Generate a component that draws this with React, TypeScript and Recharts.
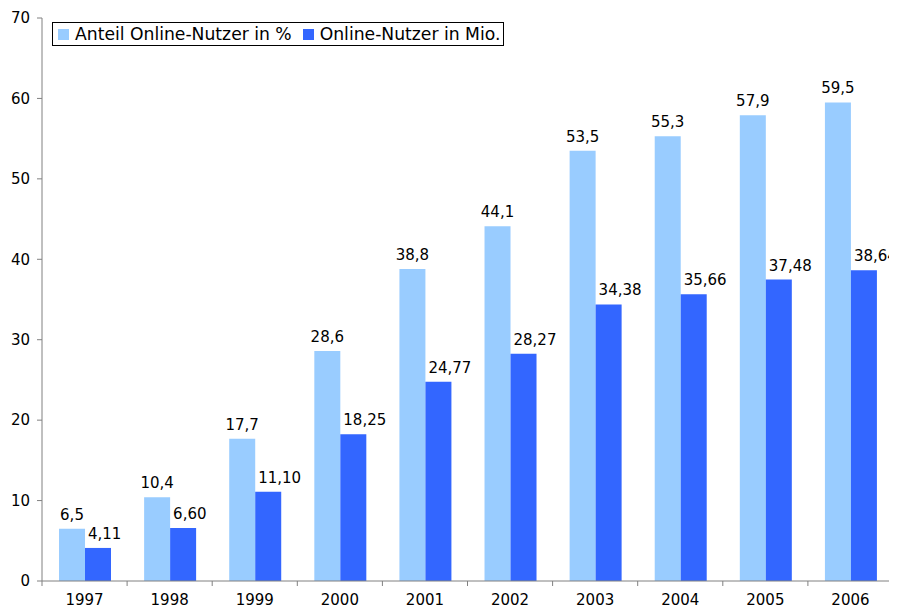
import { BarChart, Bar, XAxis, YAxis, Legend, LabelList } from "recharts";

const years = ["1997", "1998", "1999", "2000", "2001", "2002", "2003", "2004", "2005", "2006"];
const anteil = [6.5, 10.4, 17.7, 28.6, 38.8, 44.1, 53.5, 55.3, 57.9, 59.5];
const nutzer = [4.11, 6.6, 11.1, 18.25, 24.77, 28.27, 34.38, 35.66, 37.48, 38.64];
const yTicks = [0, 10, 20, 30, 40, 50, 60, 70];

const data = years.map((year, i) => ({ year, anteil: anteil[i], nutzer: nutzer[i] }));

const FONT = "'DejaVu Sans', Verdana, sans-serif";
const AXIS = "#808080";

const fmt = (v: number, digits: number) => v.toFixed(digits).replace(".", ",");

// centred labels for the light bars, left-shifted start for the dark ones
function makeLabel(digits: number, anchor: "middle" | "start") {
  return (props: any) => {
    const { x, y, width, value } = props;
    const lx = anchor === "middle" ? Number(x) + Number(width) / 2 : Number(x) + 3;
    return (
      <text x={lx} y={Number(y) - 9} textAnchor={anchor} fontSize={15} fontFamily={FONT} fill="#000">
        {fmt(Number(value), digits)}
      </text>
    );
  };
}

function YearTick(props: any) {
  const { x, y, payload, index } = props;
  const half = payload?.offset ?? 42.5;
  return (
    <g>
      <line x1={x - half} x2={x - half} y1={y} y2={y + 5} stroke={AXIS} />
      {index === years.length - 1 && (
        <line x1={x + half} x2={x + half} y1={y} y2={y + 5} stroke={AXIS} />
      )}
      <text x={x} y={y + 24} textAnchor="middle" fontSize={15} fontFamily={FONT} fill="#000">
        {payload.value}
      </text>
    </g>
  );
}

function LegendBox(props: any) {
  const items = props.payload || [];
  return (
    <div
      style={{
        border: "1px solid #000",
        display: "inline-flex",
        alignItems: "center",
        height: 22,
        padding: "0 3px 0 5px",
        background: "#fff",
        fontFamily: FONT,
        fontSize: 17.2,
        whiteSpace: "nowrap",
      }}
    >
      {items.map((it: any, i: number) => (
        <span key={i} style={{ display: "inline-flex", alignItems: "center", marginLeft: i ? 11 : 0 }}>
          <span style={{ width: 11, height: 11, background: it.color, display: "inline-block", marginRight: 6 }} />
          {it.value}
        </span>
      ))}
    </div>
  );
}

export default function App() {
  return (
    <div style={{ width: 889, height: 600, fontFamily: FONT }}>
      <BarChart
        width={889}
        height={600}
        data={data}
        margin={{ top: 10, right: 4, left: 0, bottom: 0 }}
        barCategoryGap="20%"
        barGap={0}
        style={{ overflow: "visible" }}
      >
        <XAxis
          dataKey="year"
          height={27}
          stroke={AXIS}
          tickLine={false}
          tickSize={0}
          tickMargin={0}
          tick={<YearTick />}
          interval={0}
        />
        <YAxis
          width={34}
          domain={[0, 70]}
          ticks={yTicks}
          stroke={AXIS}
          tickSize={5}
          tickMargin={7}
          tick={{ fill: "#000", fontSize: 15, fontFamily: FONT }}
          interval={0}
        />
        <Legend
          layout="horizontal"
          verticalAlign="middle"
          align="center"
          content={<LegendBox />}
          wrapperStyle={{ position: "absolute", top: 14, left: 44, width: "auto", height: "auto" }}
        />
        <Bar dataKey="anteil" name="Anteil Online-Nutzer in %" fill="#99CCFF" isAnimationActive={false}>
          <LabelList dataKey="anteil" content={makeLabel(1, "middle")} />
        </Bar>
        <Bar dataKey="nutzer" name="Online-Nutzer in Mio." fill="#3366FF" isAnimationActive={false}>
          <LabelList dataKey="nutzer" content={makeLabel(2, "start")} />
        </Bar>
      </BarChart>
    </div>
  );
}
